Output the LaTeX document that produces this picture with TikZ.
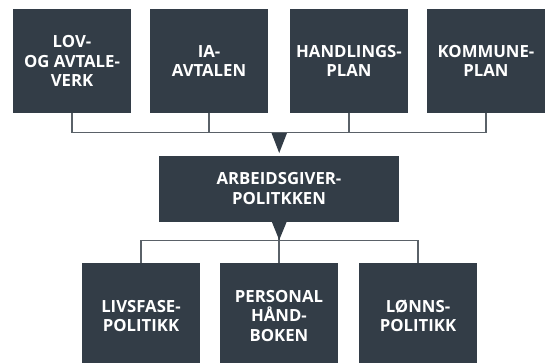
\documentclass[tikz,border=0pt]{standalone}
\usepackage{fontspec}
\newfontfamily\boxfont{Open Sans Bold}
\definecolor{boxc}{HTML}{333D47}
\definecolor{linec}{HTML}{5A6168}
\begin{document}
\begin{tikzpicture}[x=1bp,y=-1bp,
  box/.style={fill=boxc,draw=none,text=white,font=\boxfont\fontsize{16.8}{19.3}\selectfont,align=center,inner sep=0pt},
  conn/.style={draw=linec,line width=1.4bp},
  tri/.style={fill=boxc,draw=none}]
\useasboundingbox (0,0) rectangle (547,362);
% top boxes
\node[box,minimum width=118bp,minimum height=104bp] (lov) at (72,61) {LOV-\\OG AVTALE-\\VERK};
\node[box,minimum width=118bp,minimum height=104bp] (ia) at (209,61) {IA-\\AVTALEN};
\node[box,minimum width=118bp,minimum height=104bp] (hp) at (349,61) {HANDLINGS-\\PLAN};
\node[box,minimum width=118bp,minimum height=104bp] (kp) at (486,61) {KOMMUNE-\\PLAN};
% middle
\node[box,minimum width=240bp,minimum height=66bp] (ap) at (279,188.5) {ARBEIDSGIVER-\\POLITKKEN};
% bottom
\node[box,minimum width=118bp,minimum height=106bp] (lf) at (141,316) {LIVSFASE-\\POLITIKK};
\node[box,minimum width=118bp,minimum height=106bp] (ph) at (279,316) {PERSONAL\\HÅND-\\BOKEN};
\node[box,minimum width=118bp,minimum height=106bp] (lp) at (418,316) {LØNNS-\\POLITIKK};
% coordinates
\coordinate (jt) at (279,132.5);
\coordinate (jb) at (279,240.5);
\draw[conn] (lov.south) -- (lov.south |- jt) -- (kp.south |- jt) -- (kp.south);
\draw[conn] (ia.south) -- (ia.south |- jt);
\draw[conn] (hp.south) -- (hp.south |- jt);
\fill[tri] (271.5,133) -- (287,133) -- (279.2,153) -- cycle;
\draw[conn] (lf.north) -- (lf.north |- jb) -- (lp.north |- jb) -- (lp.north);
\draw[conn] (ap.south) -- (ph.north);
\fill[tri] (271.5,221) -- (287,221) -- (279.2,240) -- cycle;
\end{tikzpicture}
\end{document}
